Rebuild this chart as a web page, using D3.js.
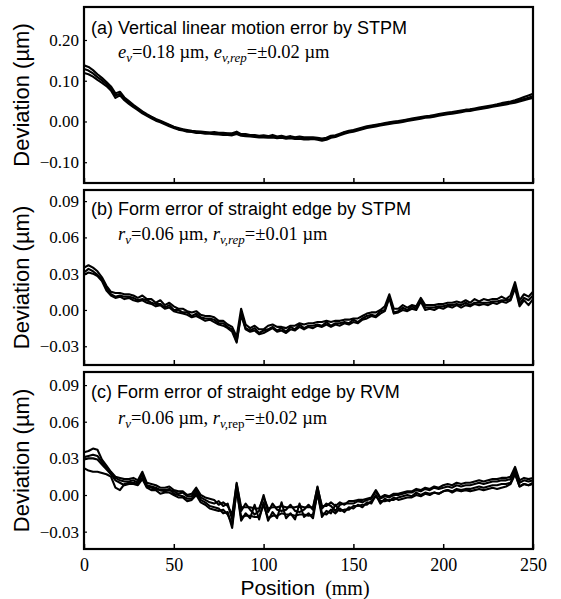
<!DOCTYPE html>
<html><head><meta charset="utf-8">
<script src="https://cdn.jsdelivr.net/npm/d3@7"></script>
<style>body{margin:0;background:#fff}svg{display:block}</style>
</head><body>
<svg id="chart" width="561" height="599"></svg>
<script>
// ---------- data (deviation in µm, sampled every 2.5 mm from 0 to 250 mm) ----------
const sampleStepMm = 2.5;
const positionTicks = [0, 50, 100, 150, 200, 250];
const yTicksA = [-0.10, 0.00, 0.10, 0.20];
const yTicksBC = [-0.03, 0.00, 0.03, 0.06, 0.09];

const seriesA1 = [0.138,0.134,0.126,0.116,0.107,0.097,0.086,0.069,0.073,0.059,
 0.050,0.041,0.033,0.025,0.018,0.012,0.006,0.002,-0.003,-0.008,
 -0.013,-0.016,-0.019,-0.021,-0.023,-0.024,-0.025,-0.026,-0.027,-0.026,
 -0.028,-0.028,-0.029,-0.029,-0.025,-0.031,-0.031,-0.033,-0.033,-0.035,
 -0.034,-0.036,-0.033,-0.037,-0.035,-0.038,-0.036,-0.039,-0.037,-0.039,
 -0.039,-0.039,-0.040,-0.042,-0.040,-0.035,-0.034,-0.030,-0.026,-0.023,
 -0.021,-0.018,-0.015,-0.012,-0.010,-0.008,-0.006,-0.004,-0.002,0.000,
 0.001,0.003,0.005,0.007,0.009,0.011,0.013,0.014,0.016,0.018,
 0.020,0.022,0.023,0.025,0.027,0.029,0.030,0.032,0.034,0.036,
 0.038,0.040,0.042,0.045,0.047,0.049,0.052,0.056,0.060,0.064,
 0.068];
const seriesA2 = [0.129,0.125,0.118,0.109,0.101,0.092,0.081,0.064,0.068,0.056,
 0.047,0.038,0.031,0.023,0.016,0.011,0.005,0.000,-0.005,-0.009,
 -0.014,-0.018,-0.020,-0.023,-0.024,-0.026,-0.026,-0.028,-0.028,-0.030,
 -0.029,-0.031,-0.030,-0.032,-0.029,-0.033,-0.033,-0.035,-0.035,-0.037,
 -0.036,-0.038,-0.037,-0.039,-0.037,-0.040,-0.039,-0.040,-0.041,-0.041,
 -0.041,-0.042,-0.042,-0.044,-0.043,-0.038,-0.036,-0.032,-0.027,-0.025,
 -0.022,-0.020,-0.017,-0.014,-0.011,-0.010,-0.007,-0.006,-0.003,-0.002,
 0.000,0.001,0.004,0.005,0.008,0.009,0.011,0.013,0.014,0.016,
 0.018,0.020,0.022,0.023,0.025,0.027,0.029,0.030,0.032,0.034,
 0.036,0.038,0.040,0.042,0.044,0.046,0.049,0.052,0.055,0.058,
 0.062];
const seriesA3 = [0.119,0.116,0.110,0.102,0.095,0.087,0.076,0.058,0.064,0.052,
 0.043,0.035,0.028,0.020,0.014,0.008,0.002,-0.002,-0.007,-0.012,
 -0.016,-0.020,-0.022,-0.025,-0.026,-0.028,-0.028,-0.030,-0.030,-0.031,
 -0.032,-0.033,-0.033,-0.034,-0.031,-0.035,-0.036,-0.037,-0.038,-0.039,
 -0.039,-0.040,-0.039,-0.041,-0.040,-0.042,-0.041,-0.043,-0.042,-0.044,
 -0.044,-0.043,-0.045,-0.047,-0.045,-0.040,-0.038,-0.034,-0.030,-0.027,
 -0.025,-0.022,-0.019,-0.016,-0.014,-0.012,-0.010,-0.008,-0.006,-0.004,
 -0.003,-0.001,0.001,0.003,0.005,0.007,0.009,0.010,0.012,0.014,
 0.016,0.018,0.019,0.021,0.023,0.025,0.026,0.028,0.030,0.032,
 0.034,0.036,0.038,0.040,0.042,0.044,0.046,0.049,0.052,0.055,
 0.058];

const seriesB1 = [0.035,0.037,0.035,0.032,0.027,0.020,0.015,0.014,0.014,0.013,
 0.013,0.012,0.010,0.012,0.009,0.009,0.006,0.008,0.004,0.006,
 0.003,0.001,0.001,-0.001,-0.002,-0.001,-0.004,-0.005,-0.005,-0.006,
 -0.009,-0.009,-0.012,-0.014,-0.022,0.001,-0.012,-0.015,-0.013,-0.016,
 -0.016,-0.013,-0.012,-0.014,-0.014,-0.015,-0.013,-0.013,-0.011,-0.012,
 -0.011,-0.011,-0.010,-0.010,-0.009,-0.010,-0.009,-0.009,-0.008,-0.008,
 -0.007,-0.007,-0.005,-0.003,-0.002,-0.002,0.000,0.003,0.013,0.001,
 0.001,0.004,0.002,0.004,0.003,0.010,0.004,0.004,0.004,0.005,
 0.005,0.006,0.006,0.007,0.006,0.008,0.006,0.009,0.007,0.009,
 0.008,0.009,0.009,0.011,0.009,0.012,0.023,0.008,0.013,0.011,
 0.015];
const seriesB2 = [0.031,0.034,0.032,0.029,0.025,0.018,0.013,0.011,0.012,0.011,
 0.011,0.010,0.008,0.009,0.008,0.006,0.005,0.005,0.002,0.004,
 0.000,0.000,-0.002,-0.002,-0.005,-0.003,-0.006,-0.007,-0.007,-0.008,
 -0.011,-0.011,-0.014,-0.016,-0.026,-0.003,-0.015,-0.017,-0.015,-0.019,
 -0.017,-0.016,-0.014,-0.017,-0.015,-0.018,-0.014,-0.016,-0.012,-0.015,
 -0.013,-0.013,-0.012,-0.013,-0.010,-0.013,-0.011,-0.011,-0.010,-0.011,
 -0.008,-0.010,-0.007,-0.005,-0.004,-0.005,-0.001,0.000,0.011,-0.002,
 -0.001,0.002,0.000,0.003,0.001,0.008,0.002,0.002,0.002,0.003,
 0.003,0.004,0.004,0.005,0.004,0.006,0.004,0.006,0.006,0.006,
 0.006,0.007,0.007,0.008,0.008,0.009,0.020,0.005,0.010,0.008,
 0.012];
const seriesB3 = [0.029,0.031,0.030,0.028,0.024,0.016,0.012,0.010,0.011,0.009,
 0.010,0.008,0.007,0.008,0.006,0.005,0.003,0.004,0.001,0.002,
 -0.001,-0.002,-0.003,-0.004,-0.006,-0.005,-0.007,-0.009,-0.008,-0.010,
 -0.012,-0.013,-0.015,-0.018,-0.027,-0.004,-0.016,-0.018,-0.017,-0.020,
 -0.019,-0.017,-0.015,-0.018,-0.017,-0.019,-0.016,-0.017,-0.014,-0.016,
 -0.014,-0.015,-0.013,-0.014,-0.012,-0.014,-0.012,-0.013,-0.011,-0.012,
 -0.010,-0.011,-0.008,-0.007,-0.005,-0.006,-0.003,-0.001,0.010,-0.003,
 -0.002,0.000,-0.001,0.001,0.000,0.007,0.000,0.001,0.000,0.002,
 0.001,0.003,0.002,0.004,0.002,0.004,0.003,0.005,0.004,0.005,
 0.004,0.006,0.005,0.007,0.006,0.008,0.018,0.003,0.008,0.004,
 0.009];

const seriesC1 = [0.035,0.036,0.038,0.037,0.029,0.024,0.019,0.015,0.014,0.013,
 0.013,0.014,0.012,0.019,0.010,0.009,0.008,0.006,0.006,0.007,
 0.004,0.003,0.003,0.000,0.001,0.006,0.000,-0.002,-0.003,-0.004,
 -0.008,-0.006,-0.009,-0.016,0.009,-0.010,-0.010,-0.010,-0.011,-0.011,
 -0.002,-0.011,-0.010,-0.010,-0.009,-0.010,-0.010,-0.010,-0.009,-0.010,
 -0.010,-0.010,0.006,-0.009,-0.009,-0.006,-0.009,-0.006,-0.008,-0.005,
 -0.005,-0.004,-0.004,-0.003,-0.002,0.004,-0.002,0.000,-0.001,0.001,
 0.001,0.002,0.003,0.003,0.005,0.004,0.006,0.005,0.007,0.006,
 0.008,0.009,0.008,0.010,0.009,0.010,0.010,0.011,0.012,0.011,
 0.012,0.013,0.013,0.014,0.014,0.015,0.023,0.012,0.014,0.013,
 0.014];
const seriesC2 = [0.029,0.030,0.030,0.029,0.025,0.021,0.017,0.012,0.010,0.008,
 0.009,0.009,0.008,0.013,0.006,0.004,0.004,0.001,0.002,0.002,
 0.000,-0.002,-0.002,-0.005,-0.004,0.000,-0.006,-0.008,-0.011,-0.012,
 -0.013,-0.012,-0.016,-0.024,0.004,-0.018,-0.017,-0.017,-0.018,-0.018,
 -0.008,-0.019,-0.017,-0.017,-0.015,-0.016,-0.016,-0.017,-0.016,-0.016,
 -0.017,-0.016,0.001,-0.015,-0.016,-0.012,-0.015,-0.011,-0.014,-0.010,
 -0.011,-0.008,-0.010,-0.006,-0.007,0.000,-0.007,-0.003,-0.005,-0.002,
 -0.004,-0.003,-0.002,-0.002,0.000,-0.001,0.001,0.000,0.002,0.001,
 0.003,0.004,0.003,0.005,0.004,0.005,0.005,0.006,0.007,0.006,
 0.007,0.008,0.008,0.009,0.009,0.010,0.018,0.007,0.009,0.008,
 0.009];
const seriesC3 = [0.022,0.020,0.019,0.019,0.018,0.017,0.015,0.006,0.004,0.009,
 0.010,0.010,0.009,0.014,0.007,0.006,0.005,0.004,0.003,0.004,
 0.003,0.001,0.002,-0.001,-0.001,0.004,-0.002,-0.004,-0.006,-0.007,
 -0.005,-0.009,-0.007,-0.020,0.010,-0.013,-0.007,-0.012,-0.016,-0.013,
 0.000,-0.014,-0.007,-0.012,-0.013,-0.012,-0.008,-0.013,-0.014,-0.012,
 -0.008,-0.012,0.007,-0.011,-0.007,-0.009,-0.013,-0.008,-0.007,-0.007,
 -0.007,-0.005,-0.006,-0.004,-0.003,0.003,-0.003,-0.001,-0.002,0.000,
 0.000,0.001,0.002,0.002,0.004,0.003,0.005,0.004,0.006,0.005,
 0.006,0.007,0.006,0.008,0.007,0.008,0.008,0.009,0.010,0.009,
 0.010,0.011,0.011,0.012,0.012,0.013,0.021,0.010,0.012,0.011,
 0.012];
const seriesC4 = [0.031,0.032,0.033,0.032,0.027,0.022,0.018,0.014,0.012,0.011,
 0.011,0.012,0.010,0.017,0.008,0.007,0.006,0.004,0.004,0.005,
 0.001,0.000,-0.001,-0.003,-0.003,0.002,-0.004,-0.006,-0.009,-0.010,
 -0.011,-0.015,-0.014,-0.027,0.005,-0.021,-0.015,-0.019,-0.008,-0.020,
 -0.006,-0.021,-0.014,-0.019,-0.006,-0.019,-0.015,-0.020,-0.007,-0.018,
 -0.015,-0.019,0.002,-0.018,-0.013,-0.015,-0.008,-0.013,-0.012,-0.012,
 -0.009,-0.009,-0.008,-0.008,-0.005,-0.001,-0.005,-0.005,-0.004,-0.004,
 -0.002,-0.001,0.000,-0.001,0.002,0.000,0.002,0.001,0.002,0.001,
 0.003,0.004,0.002,0.004,0.003,0.004,0.003,0.004,0.005,0.004,
 0.005,0.006,0.005,0.006,0.007,0.009,0.017,0.007,0.009,0.008,
 0.010];

const titles = ["(a) Vertical linear motion error by STPM",
                "(b) Form error of straight edge by STPM",
                "(c) Form error of straight edge by RVM"];

// ---------- layout ----------
const svg = d3.select("#chart");
const X0 = 84, X1 = 533;
const x = d3.scaleLinear().domain([0, 250]).range([X0, X1]);
const sans = "'Liberation Sans', Arial, Helvetica, sans-serif";
const serif = "'Liberation Serif', 'Times New Roman', Times, serif";

const panels = [
  {series:[seriesA1,seriesA2,seriesA3], top:7, bottom:183, domain:[-0.151,0.281], ticks:yTicksA,
   title:titles[0], titleY:34, subY:58,
   sub:[["e",true,false],["v",true,true],["=0.18 µm, ",false,false],["e",true,false],["v,rep",true,true],["=±0.02 µm",false,false]]},
  {series:[seriesB1,seriesB2,seriesB3], top:190, bottom:365, domain:[-0.0455,0.0992], ticks:yTicksBC,
   title:titles[1], titleY:215, subY:240,
   sub:[["r",true,false],["v",true,true],["=0.06 µm, ",false,false],["r",true,false],["v,rep",true,true],["=±0.01 µm",false,false]]},
  {series:[seriesC1,seriesC2,seriesC3,seriesC4], top:372, bottom:549, domain:[-0.0442,0.1007], ticks:yTicksBC,
   title:titles[2], titleY:398, subY:424,
   sub:[["r",true,false],["v",true,true],["=0.06 µm, ",false,false],["r",true,false],["v,",true,true],["rep",false,true],["=±0.02 µm",false,false]]}
];

panels.forEach((p, pi) => {
  const y = d3.scaleLinear().domain(p.domain).range([p.bottom, p.top]);
  const g = svg.append("g");
  const clipId = "clip" + pi;
  svg.append("clipPath").attr("id", clipId).append("rect")
    .attr("x", X0).attr("y", p.top).attr("width", X1 - X0).attr("height", p.bottom - p.top);

  const line = d3.line().x((d, i) => x(i * sampleStepMm)).y(d => y(d));
  g.append("g").attr("clip-path", `url(#${clipId})`)
    .selectAll("path").data(p.series).join("path")
    .attr("d", line).attr("fill", "none").attr("stroke", "#000")
    .attr("stroke-width", 2.1).attr("stroke-linejoin", "round");

  // frame
  g.append("rect").attr("x", X0).attr("y", p.top).attr("width", X1 - X0).attr("height", p.bottom - p.top)
    .attr("fill", "none").attr("stroke", "#000").attr("stroke-width", 2.2);

  // y axis ticks (inward) and labels
  const yAxis = d3.axisLeft(y).tickValues(p.ticks).tickSize(-3).tickPadding(5).tickFormat(d3.format(".2f"));
  const ya = g.append("g").attr("transform", `translate(${X0},0)`).call(yAxis)
    .attr("font-family", serif).attr("font-size", 17);
  ya.select(".domain").remove();
  ya.selectAll("line").attr("stroke", "#000").attr("stroke-width", 1.2);
  ya.selectAll("text").attr("font-family", serif).attr("font-size", 17).attr("fill", "#000");

  // x axis ticks (inward) on the bottom of each frame
  const xAxis = d3.axisBottom(x).tickValues(positionTicks).tickSize(-5).tickPadding(9)
    .tickFormat(pi === 2 ? d3.format("d") : () => "");
  const xa = g.append("g").attr("transform", `translate(0,${p.bottom})`).call(xAxis)
    .attr("font-family", serif).attr("font-size", 18);
  xa.select(".domain").remove();
  xa.selectAll("line").attr("stroke", "#000").attr("stroke-width", 1.5);
  xa.selectAll("text").attr("font-family", serif).attr("font-size", 18).attr("fill", "#000");

  // title
  g.append("text").attr("x", 91).attr("y", p.titleY).attr("font-family", sans).attr("font-size", 18)
    .attr("fill", "#000").text(p.title);

  // subtitle with italic symbols and subscripts
  const st = g.append("text").attr("x", 118).attr("y", p.subY).attr("font-family", serif)
    .attr("font-size", 18.5).attr("fill", "#000");
  let inSub = false;
  p.sub.forEach(([txt, it, sb]) => {
    const ts = st.append("tspan").text(txt).attr("font-style", it ? "italic" : "normal");
    if (sb) ts.attr("font-size", 13);
    if (sb && !inSub) ts.attr("dy", 4);
    if (!sb && inSub) ts.attr("dy", -4);
    inSub = sb;
  });

  // y label
  const cy = (p.top + p.bottom) / 2;
  g.append("text").attr("transform", `translate(29,${cy}) rotate(-90)`)
    .attr("text-anchor", "middle").attr("font-family", sans).attr("font-size", 22)
    .attr("fill", "#000").text("Deviation (µm)");
});

// x label
const xl = svg.append("text").attr("x", 305).attr("y", 595).attr("text-anchor", "middle").attr("fill", "#000");
xl.append("tspan").attr("font-family", sans).attr("font-size", 21).text("Position");
xl.append("tspan").attr("font-family", serif).attr("font-size", 20).text("\u00a0\u00a0(mm)");
</script>
</body></html>
